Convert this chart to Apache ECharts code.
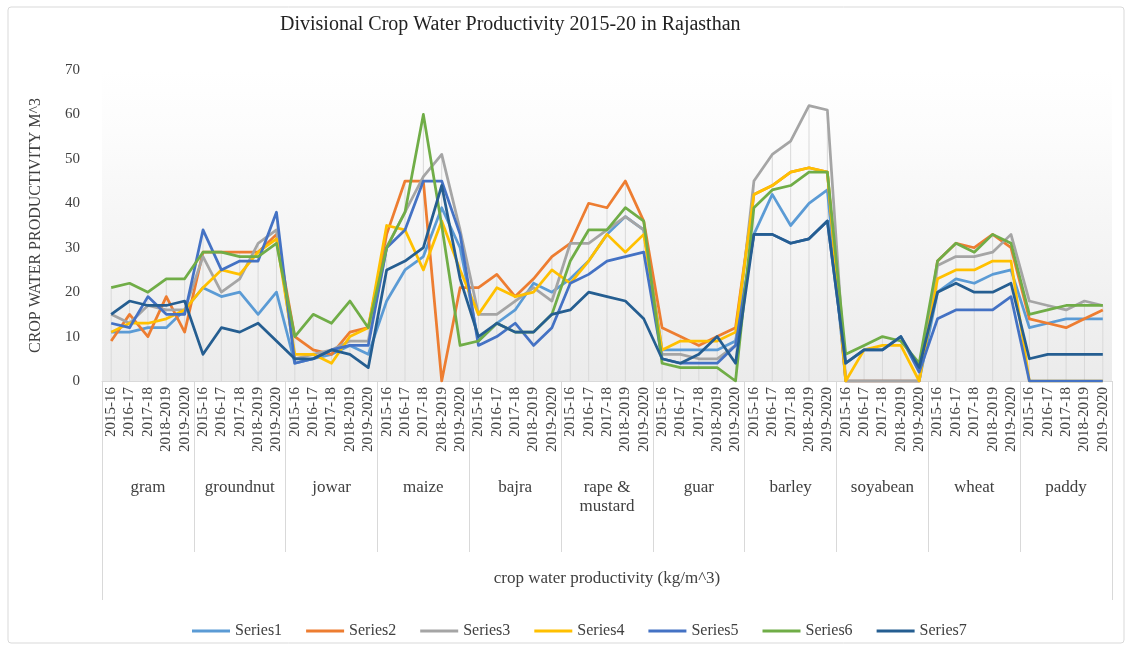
<!DOCTYPE html>
<html>
<head>
<meta charset="utf-8">
<title>Divisional Crop Water Productivity 2015-20 in Rajasthan</title>
<script src="https://cdn.jsdelivr.net/npm/echarts@6/dist/echarts.min.js"></script>
<style>
  html, body { margin: 0; padding: 0; background: #fff; }
  #main { width: 1131px; height: 649px; }
</style>
</head>
<body>
<div id="main"></div>
<script>
// crop groups and the five years inside each group
const crops = ['gram', 'groundnut', 'jowar', 'maize', 'bajra', 'rape &\nmustard', 'guar', 'barley', 'soyabean', 'wheat', 'paddy'];
const years = ['2015-16', '2016-17', '2017-18', '2018-2019', '2019-2020'];
const yTicks = [0, 10, 20, 30, 40, 50, 60, 70];

// values, 5 per crop in the order above
const s1 = [11, 11, 12, 12, 16, 21, 19, 20, 15, 20, 4, 5, 6, 8, 6, 18, 25, 28, 39, 30, 9, 13, 16, 22, 20,
  23, 27, 33, 37, 34, 7, 7, 7, 7, 9, 33, 42, 35, 40, 43, 0, 0, 0, 0, 0, 20, 23, 22, 24, 25, 12, 13, 14, 14, 14];
const s2 = [9, 15, 10, 19, 11, 29, 29, 29, 29, 33, 10, 7, 6, 11, 12, 33, 45, 45, 0, 21, 21, 24, 19, 23, 28,
  31, 40, 39, 45, 36, 12, 10, 8, 10, 12, 42, 44, 47, 48, 47, 0, 0, 0, 0, 0, 27, 31, 30, 33, 30, 14, 13, 12, 14, 16];
const s3 = [15, 13, 17, 16, 16, 28, 20, 23, 31, 34, 5, 6, 7, 9, 9, 30, 38, 46, 51, 34, 15, 15, 18, 21, 18,
  31, 31, 34, 37, 34, 6, 6, 5, 5, 8, 45, 51, 54, 62, 61, 0, 0, 0, 0, 0, 26, 28, 28, 29, 33, 18, 17, 16, 18, 17];
const s4 = [11, 13, 13, 14, 16, 21, 25, 24, 29, 32, 6, 6, 4, 10, 12, 35, 34, 25, 36, 25, 15, 21, 19, 20, 25,
  22, 27, 33, 29, 33, 7, 9, 9, 9, 11, 42, 44, 47, 48, 47, 0, 7, 8, 8, 0, 23, 25, 25, 27, 27, 0, 0, 0, 0, 0];
const s5 = [13, 12, 19, 15, 15, 34, 25, 27, 27, 38, 4, 5, 7, 8, 8, 30, 34, 45, 45, 33, 8, 10, 13, 8, 12,
  22, 24, 27, 28, 29, 5, 4, 4, 4, 8, 33, 33, 31, 32, 36, 4, 7, 7, 10, 2, 14, 16, 16, 16, 19, 0, 0, 0, 0, 0];
const s6 = [21, 22, 20, 23, 23, 29, 29, 28, 28, 31, 10, 15, 13, 18, 12, 30, 38, 60, 35, 8, 9, 13, 11, 11, 15,
  27, 34, 34, 39, 36, 4, 3, 3, 3, 0, 39, 43, 44, 47, 47, 6, 8, 10, 9, 4, 27, 31, 29, 33, 31, 15, 16, 17, 17, 17];
const s7 = [15, 18, 17, 17, 18, 6, 12, 11, 13, 9, 5, 5, 7, 6, 3, 25, 27, 30, 44, 23, 10, 13, 11, 11, 15,
  16, 20, 19, 18, 14, 5, 4, 6, 10, 4, 33, 33, 31, 32, 36, 4, 7, 7, 10, 3, 20, 22, 20, 20, 22, 5, 6, 6, 6, 6];

const seriesNames = ['Series1', 'Series2', 'Series3', 'Series4', 'Series5', 'Series6', 'Series7'];
const seriesValues = [s1, s2, s3, s4, s5, s6, s7];
const colors = ['#5B9BD5', '#ED7D31', '#A5A5A5', '#FFC000', '#4472C4', '#70AD47', '#255E91'];

const serif = '"Liberation Serif", "DejaVu Serif", serif';
const textColor = '#404040';

// one label per year, repeated for every crop
let yearLabels = [];
crops.forEach(function () {
  years.forEach(function (y) { yearLabels.push(y); });
});

// drop lines: from the highest point of each category down to the axis
let dropTops = [];
for (let i = 0; i < yearLabels.length; i++) {
  let top = 0;
  for (let k = 0; k < seriesValues.length; k++) {
    if (seriesValues[k][i] > top) top = seriesValues[k][i];
  }
  dropTops.push(top);
}

let series = [{
  name: 'drop',
  type: 'bar',
  data: dropTops,
  barWidth: 1,
  silent: true,
  itemStyle: { color: '#d9d9d9' },
  z: 1
}];
for (let k = 0; k < seriesNames.length; k++) {
  series.push({
    name: seriesNames[k],
    type: 'line',
    data: seriesValues[k],
    symbol: 'none',
    lineStyle: { width: 2.75, color: colors[k], join: 'round' },
    itemStyle: { color: colors[k] },
    z: 3
  });
}

const myChart = echarts.init(document.getElementById('main'));
const option = {
  animation: false,
  color: colors,
  title: {
    text: 'Divisional Crop Water Productivity 2015-20 in Rajasthan',
    left: 275,
    top: 10,
    textStyle: { fontFamily: serif, fontSize: 20, fontWeight: 'normal', color: '#222' }
  },
  legend: {
    data: seriesNames,
    left: 187,
    top: 618,
    icon: 'rect',
    itemWidth: 38,
    itemHeight: 3,
    itemGap: 24,
    textStyle: { fontFamily: serif, fontSize: 16, color: textColor }
  },
  grid: {
    left: 102,
    right: 19,
    top: 70,
    bottom: 268,
    show: true,
    borderWidth: 0,
    backgroundColor: new echarts.graphic.LinearGradient(0, 0, 0, 1, [
      { offset: 0, color: '#ffffff' },
      { offset: 0.2, color: '#fcfcfc' },
      { offset: 1, color: '#ebebeb' }
    ])
  },
  xAxis: [
    {
      type: 'category',
      data: yearLabels,
      boundaryGap: true,
      axisLine: { lineStyle: { color: '#d9d9d9', width: 1 } },
      axisTick: { show: false },
      axisLabel: { interval: 0, rotate: 90, margin: 6, fontFamily: serif, fontSize: 15, color: textColor }
    },
    {
      type: 'category',
      data: crops,
      position: 'bottom',
      boundaryGap: true,
      axisLine: { show: false },
      axisTick: { show: true, length: 171, lineStyle: { color: '#d9d9d9' } },
      axisLabel: { interval: 0, margin: 97, fontFamily: serif, fontSize: 17, color: textColor, lineHeight: 19 },
      name: 'crop water productivity (kg/m^3)',
      nameLocation: 'middle',
      nameGap: 189,
      nameTextStyle: { fontFamily: serif, fontSize: 17, color: textColor }
    },
    {
      // outer left/right edges of the label box
      type: 'category',
      data: [''],
      position: 'bottom',
      boundaryGap: true,
      axisLine: { show: false },
      axisTick: { show: true, length: 219, lineStyle: { color: '#d9d9d9' } },
      axisLabel: { show: false }
    }
  ],
  yAxis: {
    type: 'value',
    min: yTicks[0],
    max: yTicks[yTicks.length - 1],
    interval: 10,
    axisLine: { show: false },
    axisTick: { show: false },
    splitLine: { show: false },
    axisLabel: { margin: 22, fontFamily: serif, fontSize: 15, color: textColor },
    name: 'CROP WATER PRODUCTIVITY M^3',
    nameLocation: 'middle',
    nameGap: 58,
    nameTextStyle: { fontFamily: serif, fontSize: 16, color: textColor }
  },
  graphic: [{
    type: 'rect',
    silent: true,
    z: -10,
    shape: { x: 8, y: 7, width: 1116, height: 636, r: 3 },
    style: { fill: 'none', stroke: '#d9d9d9', lineWidth: 1 }
  }],
  series: series
};
myChart.setOption(option);
</script>
</body>
</html>
